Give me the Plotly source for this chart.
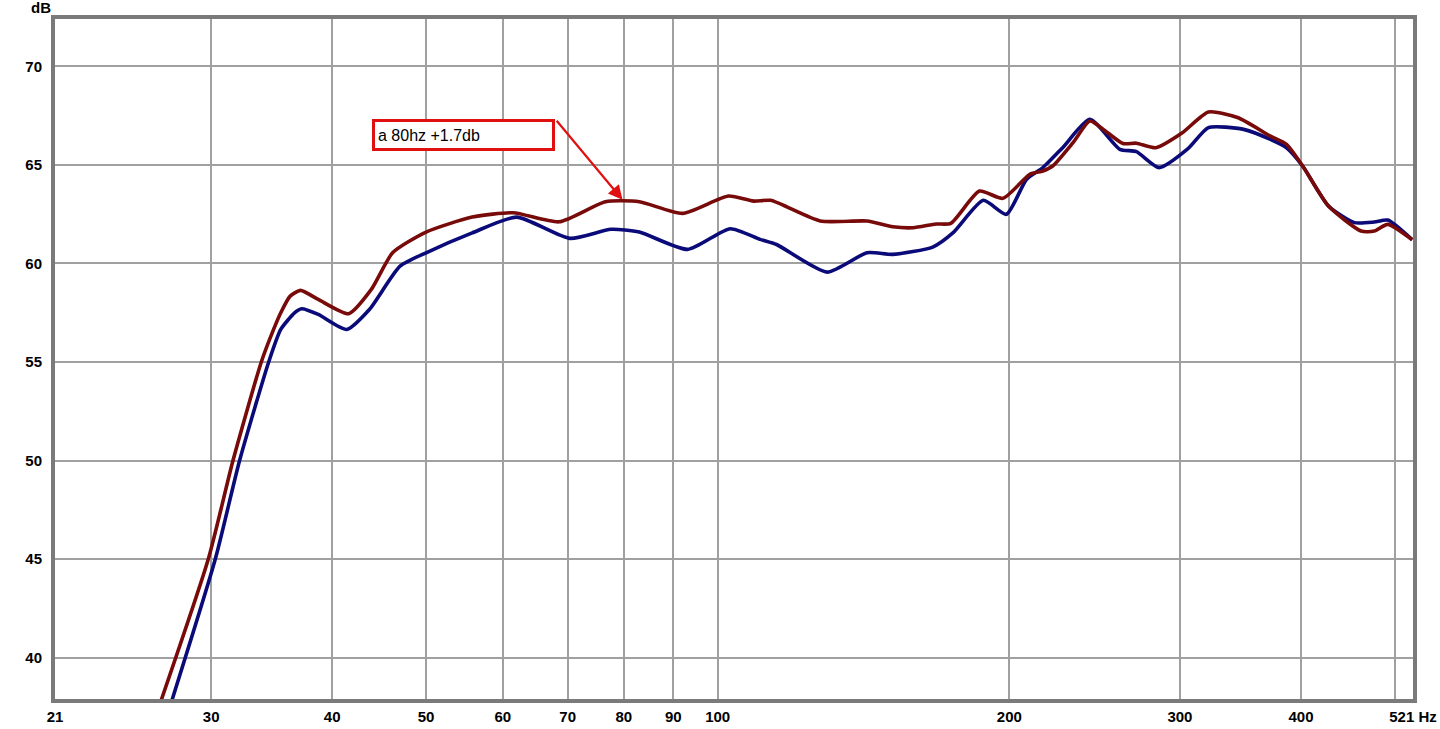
import math
import plotly.graph_objects as go

# frequency response readings (Hz, dB)
red_freq = [26.5, 29.8, 31.6, 33.8, 34.8, 35.4, 36.2, 37.1, 38.7, 41.6, 43.9, 46.2, 50, 55.8, 61.5,
            68.6, 76.6, 83.0, 92.0, 102.6, 108.9, 113.4, 127.6, 142.6, 151.6, 159.1, 168, 174,
            186.3, 197, 210, 216.6, 221.7, 232.7, 242.2, 250, 262, 270.5, 283.3, 301.7, 321, 344,
            372, 386.5, 401.6, 427, 461.5, 476, 491.6, 521]
red_db = [37.5, 45.0, 50.0, 55.0, 56.65, 57.5, 58.34, 58.63, 58.17, 57.45, 58.68, 60.55, 61.59, 62.35, 62.57,
          62.11, 63.13, 63.13, 62.54, 63.42, 63.16, 63.2, 62.15, 62.15, 61.86, 61.81, 62.0, 62.03,
          63.67, 63.3, 64.52, 64.69, 64.94, 66.13, 67.22, 66.8, 66.08, 66.1, 65.87, 66.63, 67.68, 67.4,
          66.46, 66.04, 64.94, 62.91, 61.64, 61.64, 61.98, 61.2]

blue_freq = [27.2, 30.3, 32.1, 34.4, 35.4, 36.6, 37.2, 38.7, 41.4, 43.7, 47.0, 50, 55.8, 62.0,
             70.4, 77.6, 83.0, 93.1, 103, 110.6, 115, 129.7, 142.6, 151.6, 166.7, 175, 188, 198.6,
             208.3, 216.6, 227, 242.2, 260, 270.5, 285.5, 305.8, 321, 349, 372, 386.5, 401.6, 427,
             454, 476, 491.6, 521]
blue_db = [37.5, 45.0, 50.0, 55.0, 56.65, 57.5, 57.7, 57.41, 56.65, 57.66, 59.86, 60.54, 61.55, 62.35,
           61.27, 61.73, 61.59, 60.71, 61.76, 61.22, 60.96, 59.56, 60.54, 60.46, 60.83, 61.56, 63.2, 62.49,
           64.26, 64.86, 65.87, 67.31, 65.79, 65.67, 64.86, 65.82, 66.89, 66.8, 66.29, 65.87, 64.94, 62.91,
           62.07, 62.1, 62.2, 61.2]

# x range ends; the end labels sit on the frame, like the original
f_lo, f_hi = 20.7, 522
x_ticks = [f_lo, 30, 40, 50, 60, 70, 80, 90, 100, 200, 300, 400, 500, f_hi]
x_labels = ["21", "30", "40", "50", "60", "70", "80", "90", "100", "200", "300", "400", "", "521 Hz"]
y_ticks = [40, 45, 50, 55, 60, 65, 70]

tick_font = dict(family="Liberation Sans, Arial", size=15, color="black", weight="bold")
frame = "#7a7a7a"
grid = "#a0a0a0"

fig = go.Figure()
fig.add_trace(go.Scatter(x=blue_freq, y=blue_db, mode="lines",
                         line=dict(color="#0a0a78", width=3.6, shape="spline", smoothing=0.6)))
fig.add_trace(go.Scatter(x=red_freq, y=red_db, mode="lines",
                         line=dict(color="#780a0a", width=3.6, shape="spline", smoothing=0.6)))

# soft shadow behind the callout box
for off, alpha in [(4, 0.08), (3, 0.12), (2, 0.16)]:
    fig.add_shape(type="rect", xref="x", yref="y",
                  x0=math.log10(44.0) + off * 0.0010, x1=math.log10(68.0) + off * 0.0010,
                  y0=65.7 - off * 0.05, y1=67.31 - off * 0.05,
                  fillcolor=f"rgba(0,0,0,{alpha})", line=dict(width=0), layer="above")
fig.add_annotation(x=math.log10(44.0), y=67.31, xref="x", yref="y", xanchor="left", yanchor="top",
                   text="a 80hz +1.7db", showarrow=False, align="left",
                   font=dict(family="Liberation Sans, Arial", size=16, color="black"),
                   bgcolor="white", bordercolor="#e01010", borderwidth=3, borderpad=3,
                   width=171, height=20)
fig.add_annotation(x=math.log10(80), y=63.15, xref="x", yref="y",
                   ax=math.log10(68.0), ay=67.31, axref="x", ayref="y",
                   text="", showarrow=True, arrowhead=2, arrowsize=1.3, arrowwidth=2.2,
                   arrowcolor="#e01010", standoff=2)

fig.add_annotation(x=0, y=1, xref="paper", yref="paper", xanchor="right", yanchor="bottom",
                   xshift=-2, yshift=1, text="dB", showarrow=False, font=tick_font)

fig.update_xaxes(type="log", range=[math.log10(f_lo), math.log10(f_hi)], automargin=False,
                 tickmode="array", tickvals=x_ticks, ticktext=x_labels, tickfont=tick_font,
                 showgrid=True, gridcolor=grid, gridwidth=1.5, zeroline=False,
                 showline=True, linecolor=frame, linewidth=4, mirror=True, ticks="", ticklabelstandoff=1)
fig.update_yaxes(range=[37.9, 72.4], automargin=False, tickmode="array", tickvals=y_ticks, tickfont=tick_font,
                 showgrid=True, gridcolor=grid, gridwidth=1.5, zeroline=False,
                 showline=True, linecolor=frame, linewidth=4, mirror=True, ticks="", ticklabelstandoff=6)

fig.update_layout(width=1440, height=729, showlegend=False,
                  paper_bgcolor="white", plot_bgcolor="white",
                  margin=dict(l=55, r=27, t=19, b=30))

# drop the default page margin so the figure sits flush in the window
fig.write_html("out.html", config={"displayModeBar": False},
               post_script="document.body.style.margin='0';document.body.style.overflow='hidden';")
